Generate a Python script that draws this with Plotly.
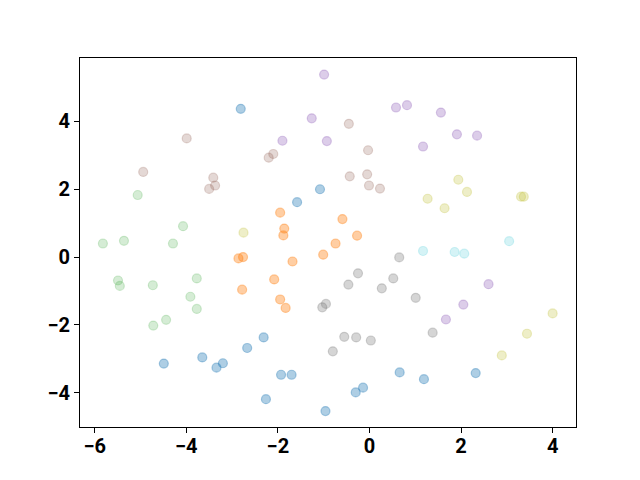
import plotly.graph_objects as go

# group data (x, y)
blue_x = [-2.81, -1.08, -1.58, -4.49, -3.65, -2.31, -2.67, -3.20, -3.34, -1.93, -1.70, -2.26, -0.96, 0.66, 1.19, -0.14, -0.30, 2.32]
blue_y = [4.37, 2.00, 1.62, -3.14, -2.96, -2.37, -2.68, -3.13, -3.26, -3.47, -3.47, -4.19, -4.54, -3.40, -3.60, -3.85, -3.99, -3.42]

orange_x = [-1.95, -1.86, -1.88, -2.86, -2.76, -1.68, -1.01, -2.08, -2.78, -1.95, -1.83, -0.59, -0.27, -0.74]
orange_y = [1.31, 0.84, 0.64, -0.04, 0.00, -0.13, 0.07, -0.66, -0.96, -1.25, -1.50, 1.12, 0.63, 0.40]

green_x = [-5.06, -4.07, -5.82, -5.36, -4.29, -5.49, -5.45, -4.73, -3.77, -3.91, -3.77, -4.44, -4.72]
green_y = [1.83, 0.91, 0.40, 0.48, 0.40, -0.69, -0.85, -0.83, -0.63, -1.17, -1.53, -1.85, -2.02]

brown_x = [-3.99, -4.94, -2.10, -2.20, -3.41, -3.37, -3.50, -0.45, -0.03, -0.43, -0.05, -0.01, 0.23]
brown_y = [3.50, 2.51, 3.04, 2.93, 2.34, 2.11, 2.01, 3.93, 3.15, 2.38, 2.44, 2.11, 2.02]

purple_x = [-0.99, -1.26, -1.90, -0.93, 0.58, 0.82, 1.56, 1.17, 1.91, 2.35, 1.67, 2.60, 2.05]
purple_y = [5.38, 4.09, 3.43, 3.42, 4.41, 4.48, 4.26, 3.26, 3.62, 3.58, -1.84, -0.80, -1.40]

gray_x = [-1.03, -0.95, 0.65, -0.25, -0.46, 0.52, 0.27, 1.01, 1.38, -0.55, -0.29, 0.03, -0.80]
gray_y = [-1.48, -1.38, -0.01, -0.48, -0.81, -0.63, -0.92, -1.20, -2.23, -2.35, -2.37, -2.46, -2.78]

olive_x = [-2.75, 1.27, 1.64, 1.94, 2.13, 3.31, 3.37, 4.00, 3.44, 2.89]
olive_y = [0.72, 1.72, 1.44, 2.28, 1.92, 1.78, 1.78, -1.66, -2.26, -2.90]

cyan_x = [3.05, 1.17, 1.86, 2.07]
cyan_y = [0.47, 0.18, 0.15, 0.10]

x_ticks = [-6, -4, -2, 0, 2, 4]
y_ticks = [-4, -2, 0, 2, 4]

groups = [
    (blue_x, blue_y, (31, 119, 180), 0.36),
    (orange_x, orange_y, (255, 127, 14), 0.38),
    (green_x, green_y, (44, 160, 44), 0.20),
    (brown_x, brown_y, (140, 86, 75), 0.23),
    (purple_x, purple_y, (148, 103, 189), 0.33),
    (gray_x, gray_y, (127, 127, 127), 0.33),
    (olive_x, olive_y, (188, 189, 34), 0.25),
    (cyan_x, cyan_y, (23, 190, 207), 0.18),
]

fig = go.Figure()
for gx, gy, (r, g, b), a in groups:
    col = f"rgba({r},{g},{b},{a})"
    fig.add_trace(go.Scatter(
        x=gx, y=gy, mode="markers",
        marker=dict(size=9, color=col, line=dict(color=col, width=1.2)),
        showlegend=False,
    ))

def tick_txt(v):
    return str(v).replace("-", "\u2212")

axis_common = dict(
    showgrid=False, zeroline=False, showline=True, linecolor="black", linewidth=1,
    mirror=True, ticks="outside", ticklen=5, tickwidth=1, tickcolor="black",
    tickfont=dict(family="Roboto", size=20, color="black"),
)

fig.update_layout(
    width=640, height=480,
    margin=dict(l=72, r=72, t=50, b=61),
    paper_bgcolor="white", plot_bgcolor="white",
    xaxis=dict(range=[-6.32, 4.51], tickvals=x_ticks, ticklabelstandoff=-4,
               ticktext=[f"<b>{tick_txt(v)}</b>" for v in x_ticks], **axis_common),
    yaxis=dict(range=[-5.01, 5.87], tickvals=y_ticks,
               ticktext=[f"<b>{tick_txt(v)}</b>" for v in y_ticks], **axis_common),
)

fig.write_html("out.html")
